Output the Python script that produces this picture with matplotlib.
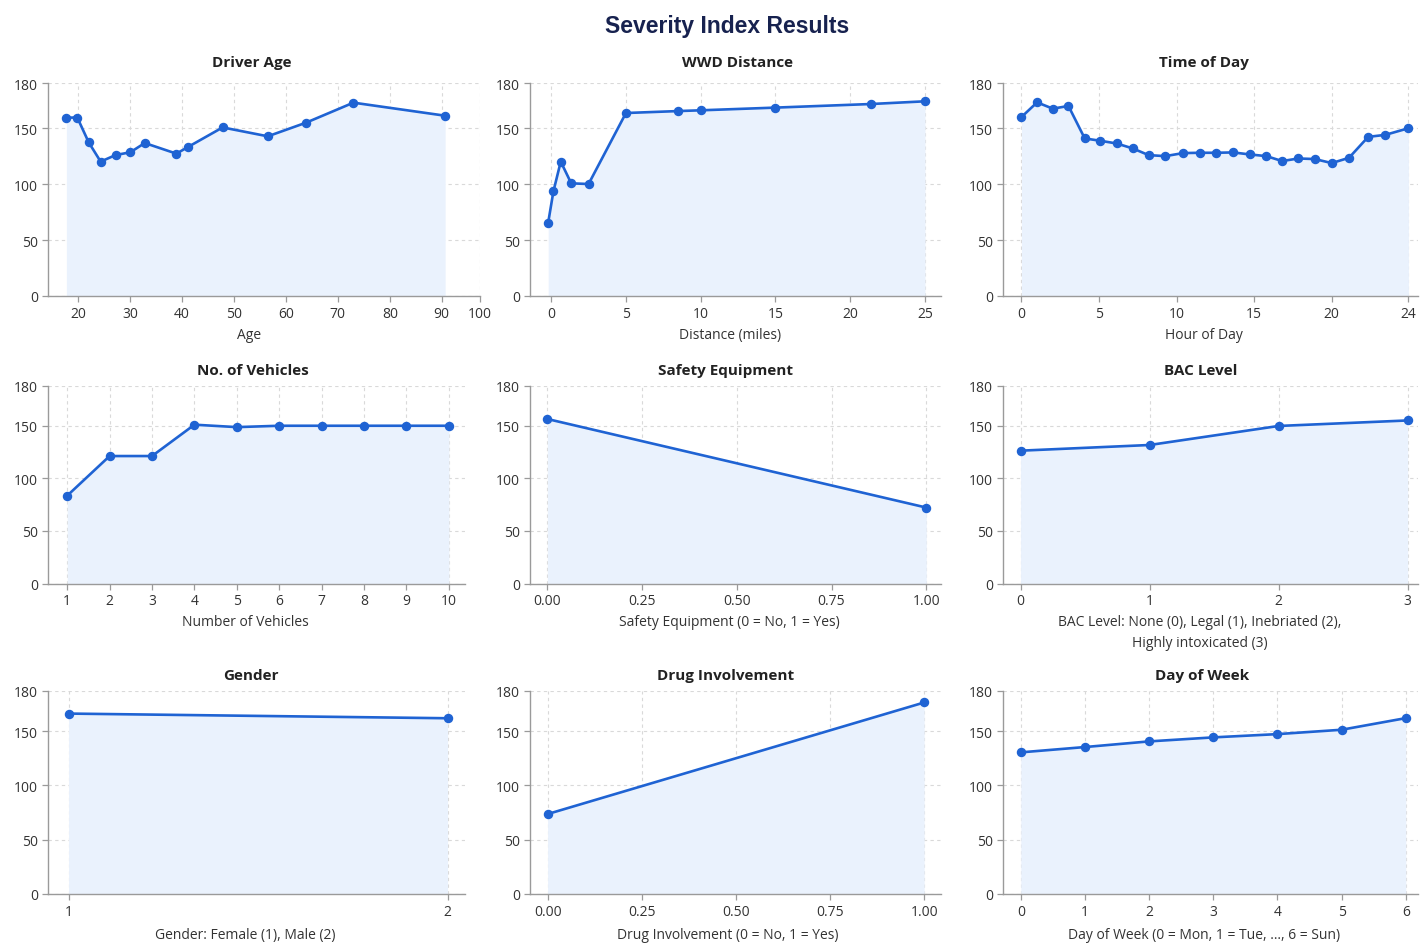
import numpy as np
import matplotlib
matplotlib.use("Agg")
import matplotlib.pyplot as plt

plt.rcParams['font.family'] = ['Open Sans', 'DejaVu Sans']

# ---------------- data ----------------
age_x = [17.7, 19.8, 22.0, 24.3, 27.2, 30.0, 32.8, 38.9, 41.1, 47.8, 56.5, 63.9, 73.0, 90.9]
age_y = [156.9, 157.0, 137.2, 120.0, 125.9, 128.3, 136.6, 127.1, 133.0, 150.4, 142.6, 153.6, 166.9, 158.2]

dist_x = [-0.2, 0.15, 0.64, 1.34, 2.5, 5.0, 8.5, 10.0, 15.0, 21.4, 25.0]
dist_y = [65.5, 93.5, 120.0, 100.6, 100.0, 160.0, 161.3, 161.8, 163.6, 166.0, 167.8]

hour_x = [0, 1.01, 2.02, 3.03, 4.08, 5.09, 6.14, 7.17, 8.2, 9.27, 10.41, 11.48,
          12.55, 13.65, 14.72, 15.79, 16.8, 17.85, 18.9, 20.0, 20.9, 21.9, 22.8, 24.0]
hour_y = [157.3, 167.1, 162.9, 164.7, 140.7, 138.6, 136.2, 131.8, 125.8, 124.9, 127.6, 127.9,
          127.9, 128.2, 126.4, 124.9, 120.5, 122.8, 122.3, 118.7, 123.4, 142.1, 143.9, 149.8]

veh_x = [1, 2, 3, 4, 5, 6, 7, 8, 9, 10]
veh_y = [83.5, 121.2, 121.2, 150.8, 148.7, 150.0, 150.0, 150.0, 150.0, 150.0]

safety_x = [0, 1]
safety_y = [155.1, 72.2]

bac_x = [0, 1, 2, 3]
bac_y = [126.3, 131.7, 149.8, 154.0]

gender_x = [1, 2]
gender_y = [163.1, 159.6]

drug_x = [0, 1]
drug_y = [73.6, 171.4]

dow_x = [0, 1, 2, 3, 4, 5, 6]
dow_y = [130.4, 135.3, 140.5, 144.2, 147.2, 151.0, 159.7]

titles = ["Driver Age", "WWD Distance", "Time of Day",
          "No. of Vehicles", "Safety Equipment", "BAC Level",
          "Gender", "Drug Involvement", "Day of Week"]
xlabels = ["Age", "Distance (miles)", "Hour of Day",
           "Number of Vehicles", "Safety Equipment (0 = No, 1 = Yes)",
           "BAC Level: None (0), Legal (1), Inebriated (2),\nHighly intoxicated (3)",
           "Gender: Female (1), Male (2)", "Drug Involvement (0 = No, 1 = Yes)",
           "Day of Week (0 = Mon, 1 = Tue, \u2026, 6 = Sun)"]

age_ticks = [20, 30, 40, 50, 60, 70, 80, 90, 100]
dist_ticks = [0, 5, 10, 15, 20, 25]
hour_ticks = [0, 5, 10, 15, 20, 24]
veh_ticks = [1, 2, 3, 4, 5, 6, 7, 8, 9, 10]
binary_ticks = [0.0, 0.25, 0.5, 0.75, 1.0]
binary_ticklabels = ["0.00", "0.25", "0.50", "0.75", "1.00"]
bac_ticks = [0, 1, 2, 3]
gender_ticks = [1, 2]
dow_ticks = [0, 1, 2, 3, 4, 5, 6]
y_ticks = [0, 50, 100, 150, 180]

series = [(age_x, age_y), (dist_x, dist_y), (hour_x, hour_y),
          (veh_x, veh_y), (safety_x, safety_y), (bac_x, bac_y),
          (gender_x, gender_y), (drug_x, drug_y), (dow_x, dow_y)]
xticks = [age_ticks, dist_ticks, hour_ticks, veh_ticks, binary_ticks, bac_ticks,
          gender_ticks, binary_ticks, dow_ticks]
xticklabels = [None, None, None, None, binary_ticklabels, None, None, binary_ticklabels, None]

# ---------------- layout / style ----------------
W, H = 1421, 945
xlims = [(14.1, 100), (-1.45, 26.05), (-1.22, 24.5),
         (0.54, 10.38), (-0.047, 1.038), (-0.14, 3.08),
         (0.945, 2.046), (-0.048, 1.044), (-0.285, 6.19)]
row_tb = [(84, 297), (387, 584.5), (692, 895)]
col_lr = [(47.7, 465), (529.5, 940.7), (1002.5, 1418)]
row_k = [1.34, 1.26, 1.23]   # stretch of the 150-180 band in the reference
row_title_pad = [12, 8.5, 8.5]
row_label_pad = [4.5, 4.5, 6]
x_breaks = {0: ([0, 90, 100], [0, 90, 97.38]), 2: ([0, 20, 24], [0, 20, 24.94])}
title_cx = [252, 737, 1204, 253, 726, 1201, 251, 726, 1202]
label_cx = [249, 730, 1204, 245, 729, 1200, 245, 728, 1204]

LINE = '#1f63d3'
FILL = '#eaf2fd'
GRID = '#d9d9d9'
SPINE = '#9a9a9a'


def piecewise(vals, disp):
    vals = np.asarray(vals, float)
    disp = np.asarray(disp, float)

    def make(a, b):
        s0 = (b[1] - b[0]) / (a[1] - a[0])
        s1 = (b[-1] - b[-2]) / (a[-1] - a[-2])

        def f(x):
            x = np.asarray(x, float)
            y = np.interp(x, a, b)
            y = np.where(x < a[0], b[0] + (x - a[0]) * s0, y)
            y = np.where(x > a[-1], b[-1] + (x - a[-1]) * s1, y)
            return y
        return f
    return make(vals, disp), make(disp, vals)


fig = plt.figure(figsize=(W / 100, H / 100), dpi=100)
fig.patch.set_facecolor('white')

fig.text(727.5 / W, 1 - 27 / H, "Severity Index Results", ha='center', va='center',
         fontsize=16.5, fontweight='bold', color='#17224f',
         family=['Liberation Sans', 'DejaVu Sans'])

for i in range(9):
    r, c = divmod(i, 3)
    top, bot = row_tb[r]
    left, right = col_lr[c]
    if i == 0:
        right = 480
    ax = fig.add_axes([left / W, 1 - bot / H, (right - left) / W, (bot - top) / H])
    k = row_k[r]
    ax.set_yscale('function', functions=piecewise([0, 150, 180], [0, 150, 150 + 30 * k]))
    if i in x_breaks:
        ax.set_xscale('function', functions=piecewise(*x_breaks[i]))
    x, y = series[i]
    ax.fill_between(x, y, 0, color=FILL, lw=0, zorder=1)
    ax.plot(x, y, color=LINE, lw=1.9, marker='o', ms=5.8, zorder=3)
    ax.set_xlim(*xlims[i])
    ax.set_ylim(0, 180)
    ax.set_yticks(y_ticks)
    ax.set_xticks(xticks[i])
    if xticklabels[i] is not None:
        ax.set_xticklabels(xticklabels[i])
    ax.grid(True, ls=(0, (3, 3)), color=GRID, lw=0.8, zorder=0)
    ax.set_axisbelow(True)
    for s in ('top', 'right'):
        ax.spines[s].set_visible(False)
    for s in ('left', 'bottom'):
        ax.spines[s].set_color(SPINE)
        ax.spines[s].set_linewidth(1.0)
    ax.tick_params(length=4, width=0.9, color=SPINE, labelsize=10, labelcolor='#333333', pad=3)
    tx = (title_cx[i] - left) / (right - left)
    ax.set_title(titles[i], fontsize=11, fontweight='bold', color='#222222',
                 pad=row_title_pad[r], x=tx)
    lx = (label_cx[i] - left) / (right - left)
    ax.set_xlabel(xlabels[i], fontsize=10, color='#333333', labelpad=row_label_pad[r], x=lx,
                  linespacing=1.5)
    ax.set_facecolor('white')

fig.savefig('out.png', dpi=100, facecolor='white')
